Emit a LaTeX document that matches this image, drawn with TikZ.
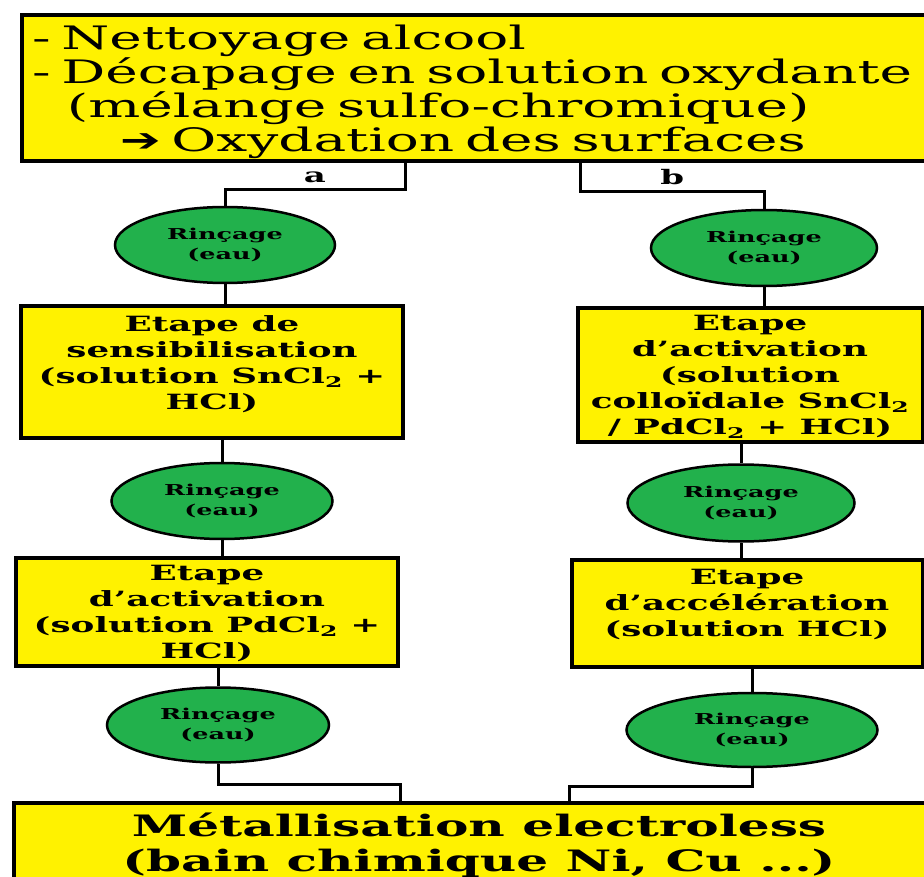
\documentclass[tikz,border=0pt]{standalone}
\usepackage{fontspec}
\setmainfont{DejaVu Serif}[FakeStretch=1.7]
\newfontfamily\arrowfont{DejaVu Sans}[FakeStretch=1.5]
\usetikzlibrary{positioning}
\usetikzlibrary{calc}
\usetikzlibrary{shapes.geometric}
\definecolor{stepyellow}{RGB}{255,242,0}
\definecolor{rinsegreen}{RGB}{34,177,76}
\tikzstyle{box} = [rectangle, draw=black, fill=stepyellow, line width=4pt, inner sep=0pt, align=center, font=\bfseries\fontsize{21}{26}\selectfont]
\tikzstyle{rinse} = [ellipse, draw=black, fill=rinsegreen, line width=2.5pt, inner sep=0pt, align=center, font=\bfseries\fontsize{15}{20}\selectfont]
\tikzstyle{link} = [line width=3pt]

\begin{document}
\begin{tikzpicture}[x=1pt, y=-1pt]
    \useasboundingbox (0,0) rectangle (924,877);
    \clip (0,0) rectangle (924,877);

    % --- pre-treatment ---
    \node[
        box, minimum width=920pt, minimum height=146pt, text width=900pt, align=left,
        font=\fontsize{32.3}{34}\selectfont
    ] at (482, 88) (top) {\rule{0pt}{32pt}- Nettoyage alcool\\
        - Décapage en solution oxydante\\
        \hspace*{35pt}(mélange sulfo-chromique)\\
        \hspace*{88pt}{\arrowfont ➔} Oxydation des surfaces};

    % --- branch a ---

    % first rinse
    \node[rinse, minimum width=220pt, minimum height=76pt] at (225, 245) (rinse_a1) {Rinçage\\(eau)};

    % sensitising step
    \node[
        box, minimum width=382pt, minimum height=131pt, text depth=19pt
    ] at (212, 372) (sensib) {Etape de\\sensibilisation\\(solution SnCl\textsubscript{2} +\\HCl)};

    % second rinse
    \node[rinse, minimum width=221pt, minimum height=76pt] at (222, 501) (rinse_a2) {Rinçage\\(eau)};

    % activation step
    \node[
        box, minimum width=382pt, minimum height=108pt, text depth=0pt
    ] at (207, 612) (activ_a) {Etape\\d'activation\\(solution PdCl\textsubscript{2} +\\HCl)};

    % third rinse
    \node[rinse, minimum width=222pt, minimum height=75pt] at (218, 725) (rinse_a3) {Rinçage\\(eau)};

    % --- branch b ---

    % first rinse
    \node[rinse, minimum width=226pt, minimum height=76pt] at (764, 248) (rinse_b1) {Rinçage\\(eau)};

    % colloidal activation step
    \node[
        box, minimum width=345pt, minimum height=133pt, text depth=0pt
    ] at (750, 375) (activ_b) {Etape\\d'activation\\(solution\\colloïdale SnCl\textsubscript{2}\\/ PdCl\textsubscript{2} + HCl)};

    % second rinse
    \node[rinse, minimum width=227pt, minimum height=77pt] at (741, 503) (rinse_b2) {Rinçage\\(eau)};

    % acceleration step
    \node[
        box, minimum width=351pt, minimum height=107pt, text depth=21pt
    ] at (747, 613) (accel) {Etape\\d'accélération\\(solution HCl)};

    % third rinse
    \node[rinse, minimum width=251pt, minimum height=74pt] at (752, 730) (rinse_b3) {Rinçage\\(eau)};

    % --- metallisation ---
    \node[
        box, minimum width=930pt, minimum height=84pt, font=\bfseries\fontsize{29.5}{35}\selectfont
    ] at (479, 845) (bottom) {Métallisation electroless\\(bain chimique Ni, Cu ...)};

    % links of branch a
    \draw[link] (sensib.east |- top.south) -- ++(0,27)
        -| node[pos=0.25, above=2pt, font=\bfseries\fontsize{20}{20}\selectfont] {a} (rinse_a1.north);
    \draw[link] (rinse_a1.south) -- (rinse_a1.south |- sensib.north);
    \draw[link] (rinse_a2.north |- sensib.south) -- (rinse_a2.north);
    \draw[link] (rinse_a2.south) -- (rinse_a2.south |- activ_a.north);
    \draw[link] (rinse_a3.north |- activ_a.south) -- (rinse_a3.north);
    \draw[link] (rinse_a3.south) -- ++(0,21) -| (bottom.north -| activ_a.east);

    % links of branch b
    \draw[link] ($(activ_b.west |- top.south) + (5,0)$) -- ++(0,29)
        -| node[pos=0.25, above=2pt, font=\bfseries\fontsize{20}{20}\selectfont] {b} (rinse_b1.north);
    \draw[link] (rinse_b1.south) -- (rinse_b1.south |- activ_b.north);
    \draw[link] (rinse_b2.north |- activ_b.south) -- (rinse_b2.north);
    \draw[link] (rinse_b2.south) -- (rinse_b2.south |- accel.north);
    \draw[link] (rinse_b3.north |- accel.south) -- (rinse_b3.north);
    \draw[link] (rinse_b3.south) -- ++(0,18) -| (bottom.north -| accel.west);

\end{tikzpicture}
\end{document}
